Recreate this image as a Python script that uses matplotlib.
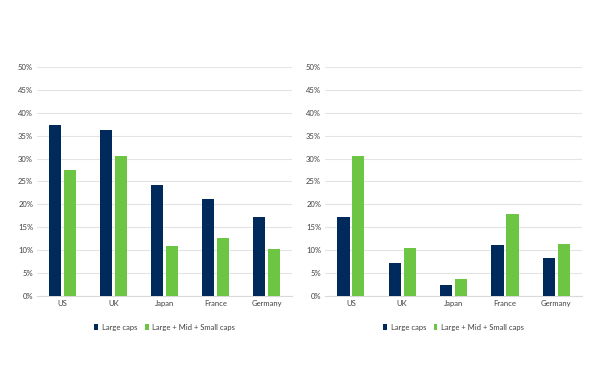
import matplotlib.pyplot as plt
import numpy as np
from matplotlib.ticker import PercentFormatter

countries = ["US", "UK", "Japan", "France", "Germany"]
series_names = ["Large caps", "Large + Mid + Small caps"]

# left chart
left_large = [37.3, 36.3, 24.3, 21.2, 17.3]
left_all = [27.6, 30.6, 10.9, 12.6, 10.3]

# right chart
right_large = [17.2, 7.2, 2.5, 11.2, 8.4]
right_all = [30.6, 10.5, 3.7, 17.9, 11.4]

navy = "#002a5c"
green = "#6cc644"
text_col = "#404040"

plt.rcParams["font.family"] = ["Lato", "DejaVu Sans"]

fig = plt.figure(figsize=(6, 3.84), dpi=100)
ax1 = fig.add_axes([0.062, 0.229, 0.425, 0.597])
ax2 = fig.add_axes([0.542, 0.229, 0.428, 0.597])

x = np.arange(len(countries))
w = 0.24
off = 0.145

for ax, large, allc in [(ax1, left_large, left_all), (ax2, right_large, right_all)]:
    ax.bar(x - off, large, w, color=navy, label=series_names[0], zorder=3)
    ax.bar(x + off, allc, w, color=green, label=series_names[1], zorder=3)
    ax.set_ylim(0, 50)
    ax.set_xlim(-0.5, len(countries) - 0.5)
    ax.set_yticks(np.arange(0, 51, 5))
    ax.yaxis.set_major_formatter(PercentFormatter(decimals=0))
    ax.set_xticks(x)
    ax.set_xticklabels(countries)
    ax.grid(axis="y", color="#e4e4e4", linewidth=0.8, zorder=0)
    for s in ["top", "right", "left"]:
        ax.spines[s].set_visible(False)
    ax.spines["bottom"].set_color("#d9d9d9")
    ax.spines["bottom"].set_linewidth(0.8)
    ax.tick_params(axis="both", length=0, labelsize=5.5, colors=text_col, pad=3)
    leg = ax.legend(loc="upper center", bbox_to_anchor=(0.5, -0.09), ncol=2,
                    frameon=False, fontsize=5.5, handlelength=0.5, handleheight=0.7,
                    handletextpad=0.5, columnspacing=1.0)
    for t in leg.get_texts():
        t.set_color(text_col)

fig.savefig("out.png", dpi=100)
